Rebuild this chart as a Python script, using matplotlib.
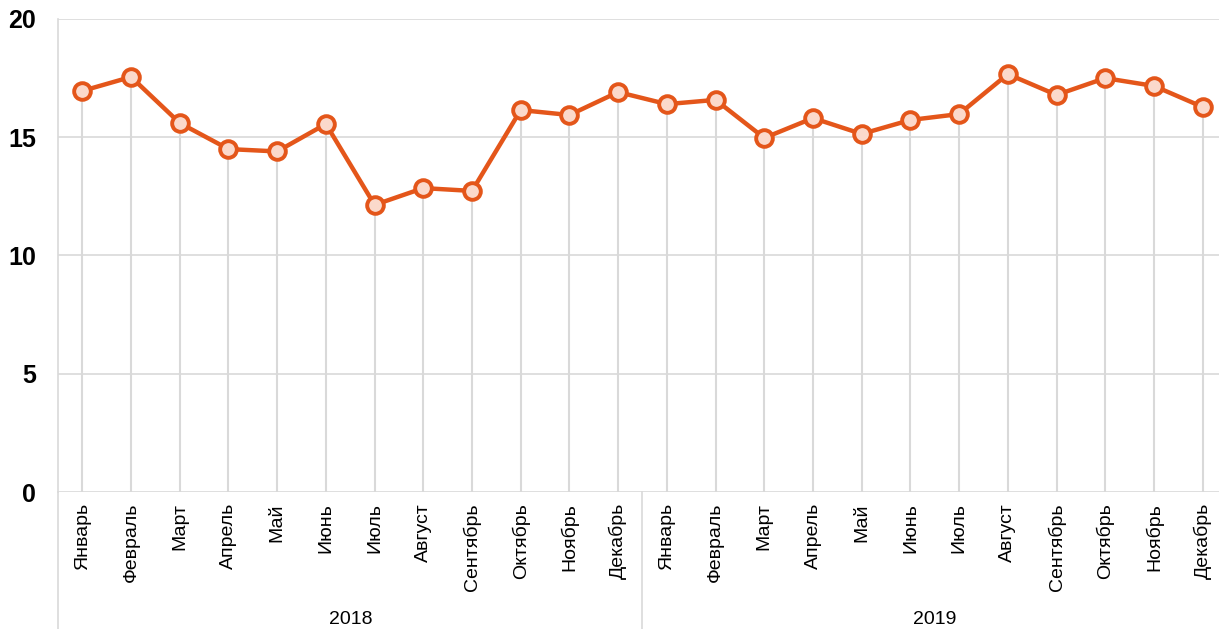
import matplotlib.pyplot as plt
from matplotlib import font_manager
from matplotlib.lines import Line2D

# Ежемесячные значения показателя, 2018–2019
months = ["Январь", "Февраль", "Март", "Апрель", "Май", "Июнь",
          "Июль", "Август", "Сентябрь", "Октябрь", "Ноябрь", "Декабрь"]
years = ["2018", "2019"]
values_2018 = [16.96, 17.55, 15.6, 14.5, 14.4, 15.56, 12.14, 12.85, 12.73, 16.15, 15.94, 16.91]
values_2019 = [16.4, 16.58, 14.97, 15.81, 15.14, 15.73, 15.98, 17.67, 16.79, 17.5, 17.17, 16.28]
y_ticks = [0, 5, 10, 15, 20]

values = values_2018 + values_2019
labels = months * len(years)
x = list(range(len(values)))

names = {f.name for f in font_manager.fontManager.ttflist}
fam = ["Liberation Sans Narrow", "Liberation Sans", "DejaVu Sans"]
fam = [f for f in fam if f in names] or ["DejaVu Sans"]
plt.rcParams["font.family"] = fam

orange = "#E4561A"
grid = "#D9D9D9"

W, H = 1219, 629
fig = plt.figure(figsize=(W / 100, H / 100), dpi=100)
left, right, top, bottom = 58, 1227, 19, 492
ax = fig.add_axes([left / W, 1 - bottom / H, (right - left) / W, (bottom - top) / H])

ax.set_xlim(-0.5, len(values) - 0.5)
ax.set_ylim(0, 20)

# горизонтальная сетка
for t in y_ticks:
    ax.axhline(t, color=grid, lw=1.2, zorder=1)

# линии проекции от точек до оси
ax.vlines(x, 0, values, color=grid, lw=1.5, zorder=1)

ax.plot(x, values, color=orange, lw=3.2, marker="o", ms=12,
        mfc="#FBD9CB", mec=orange, mew=2.8, zorder=3)

for s in ["top", "right", "bottom"]:
    ax.spines[s].set_visible(False)
ax.spines["left"].set_color(grid)
ax.spines["left"].set_linewidth(1.2)

ax.set_yticks(y_ticks)
ax.set_yticklabels([str(t) for t in y_ticks], fontsize=18, fontweight="bold")
ax.tick_params(axis="y", length=0, pad=16)

ax.set_xticks(x)
ax.set_xticklabels(labels, rotation=90, fontsize=14, va="top")
ax.tick_params(axis="x", length=0, pad=8)

# подписи годов и разделители групп
n = len(months)
year_y = -(619 - bottom) / (bottom - top)
for i, yr in enumerate(years):
    cx = (i * n + (i + 1) * n - 1) / 2
    ax.text(cx, year_y, yr, transform=ax.get_xaxis_transform(),
            ha="center", va="center", fontsize=14)
for i in range(len(years) + 1):
    xs = i * n - 0.5
    ln = Line2D([xs, xs], [0, -(H - bottom) / (bottom - top)],
                transform=ax.get_xaxis_transform(), color=grid, lw=1.2,
                clip_on=False)
    ax.add_line(ln)

fig.savefig("out.png", dpi=100)
